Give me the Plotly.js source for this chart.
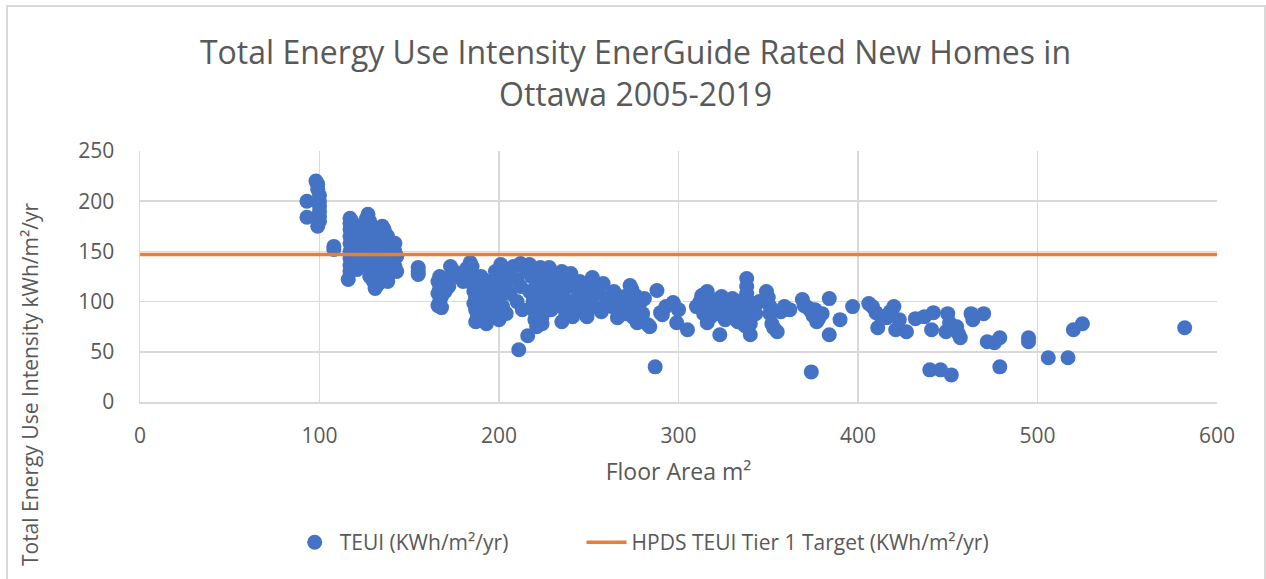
<!DOCTYPE html>
<html>
<head>
<meta charset="utf-8">
<script src="https://cdn.plot.ly/plotly-3.0.1.min.js"></script>
<style>
  html, body { margin: 0; padding: 0; background: #ffffff; overflow: hidden; }
  #chart { width: 1266px; height: 579px; }
  #frame { position: absolute; left: 6px; top: 5px; width: 1256px; height: 620px;
           border: 2px solid #d9d9d9; pointer-events: none; }
</style>
</head>
<body>
<div id="chart"></div>
<div id="frame"></div>
<script>
// Floor area (m²) of each rated home
const floorArea = [
  93,93,98,99,99,100,100,100,100,100,100,99,
  108,108,
  117,117,117,117,117,117,117,117,117,116,118,118,118,118,118,118,118,118,119,119,119,120,120,120,121,121,121,122,122,
  127,126,128,125,127,129,125,127,129,126,128,130,126,128,130,127,129,131,128,130,132,131,133,
  135,134,136,134,136,138,135,137,139,134,136,138,135,137,139,136,138,
  141,142,143,141,142,143,140,142,
  155,155,155,
  167,166,168,167,166,168,167,166,168,170,170,172,
  173,175,177,179,180,182,184,185,183,185,186,187,186,187,188,187,189,190,190,191,192,193,194,195,196,197,198,199,200,200,201,202,202,204,204,205,206,
  208,210,210,212,212,213,211,215,216,217,217,218,219,220,220,221,221,222,222,223,223,224,224,225,226,228,228,229,230,231,232,233,235,235,236,237,238,239,240,241,242,243,244,245,
  247,248,249,250,251,252,253,255,256,257,258,260,262,263,264,266,266,268,270,271,272,273,274,275,276,277,278,279,280,281,283,284,288,287,
  290,291,293,297,297,299,300,305,310,312,313,314,315,316,316,317,318,319,320,321,322,323,324,325,326,328,329,330,331,332,333,334,335,336,337,338,338,338,339,339,340,340,340,342,343,345,
  349,350,351,351,352,353,355,357,359,362,369,370,372,374,375,376,377,378,380,384,384,374,390,397,
  406,408,410,411,413,416,418,420,421,423,427,432,437,440,441,442,446,450,451,449,452,455,456,457,463,464,470,472,476,479,479,495,495,506,517,520,525,582
];
// Total energy use intensity (kWh/m²/yr) of each rated home
const teui = [
  200,184,220,217,212,206,200,195,190,185,180,175,
  155,152,
  183,178,172,165,158,150,143,136,130,122,180,175,168,162,155,148,140,133,176,160,145,170,152,138,165,148,132,158,143,
  187,182,180,175,172,170,165,162,160,155,150,148,145,140,138,135,130,128,125,120,116,113,118,
  175,170,172,165,160,165,155,150,155,148,145,140,138,133,128,125,120,
  155,150,145,140,135,130,148,158,
  134,130,127,
  125,120,118,113,108,105,100,96,94,110,122,115,
  135,130,125,128,120,133,139,135,125,118,110,104,98,92,86,80,115,125,100,90,83,78,108,120,95,88,130,113,104,82,137,125,95,118,88,130,108,
  135,122,100,138,115,92,52,130,66,137,110,125,100,90,82,75,118,128,108,134,95,85,78,120,102,134,115,92,125,105,98,118,80,130,110,90,122,100,128,85,115,95,105,120,
  92,112,85,100,118,124,95,108,115,90,118,100,105,95,110,84,100,92,105,88,98,116,112,84,106,79,95,102,88,103,77,75,111,35,
  89,87,95,99,98,79,92,72,95,100,106,88,108,110,79,95,85,102,92,100,88,67,105,95,82,98,90,103,86,95,80,100,92,85,76,123,115,108,100,92,85,78,67,95,88,100,
  110,104,95,88,78,74,70,90,95,92,102,96,94,90,86,92,80,83,88,103,67,30,82,95,
  98,95,89,74,85,84,90,95,72,82,70,83,85,32,72,89,32,88,79,70,27,75,68,64,88,82,88,60,59,64,35,64,60,44,44,72,78,74
];
// HPDS TEUI Tier 1 target (kWh/m²/yr), drawn across the floor-area axis range
const targetValue = 147;
const targetSpan = [0, 600];

const xTicks = [0, 100, 200, 300, 400, 500, 600];
const yTicks = [0, 50, 100, 150, 200, 250];

const FONT = '"Open Sans", "Noto Sans", sans-serif';
const GREY = '#595959';

const traces = [
  {
    type: 'scatter', mode: 'markers', name: 'TEUI (KWh/m²/yr)',
    x: floorArea, y: teui, legend: 'legend',
    marker: { color: '#4472C4', size: 15, line: { width: 0 } },
    hoverinfo: 'x+y'
  },
  {
    type: 'scatter', mode: 'lines', name: 'HPDS TEUI Tier 1 Target (KWh/m²/yr)',
    x: targetSpan, y: targetSpan.map(() => targetValue), legend: 'legend2',
    line: { color: '#ED7D31', width: 3.5 }
  }
];

const legendBase = {
  orientation: 'h', xref: 'paper', yref: 'paper', xanchor: 'left',
  y: -0.56, yanchor: 'middle',
  font: { family: FONT, size: 21, color: GREY },
  itemwidth: 40, bgcolor: 'rgba(0,0,0,0)'
};

const layout = {
  width: 1266, height: 579,
  paper_bgcolor: '#ffffff', plot_bgcolor: '#ffffff',
  margin: { l: 140, r: 49, t: 151, b: 177 },
  font: { family: FONT, color: GREY },
  title: {
    text: 'Total Energy Use Intensity EnerGuide Rated New Homes in<br>Ottawa 2005-2019',
    font: { family: FONT, size: 32, color: GREY },
    xref: 'container', x: 0.502, xanchor: 'center',
    yref: 'container', y: 0.889, yanchor: 'top'
  },
  xaxis: {
    range: [0, 600], tickvals: xTicks, ticktext: xTicks.map(String),
    showgrid: true, gridcolor: '#d9d9d9', gridwidth: 1.5,
    zeroline: false, showline: true, linecolor: '#d9d9d9', linewidth: 1.5,
    ticks: '', ticklabelstandoff: 14,
    tickfont: { family: FONT, size: 21, color: GREY },
    title: { text: 'Floor Area m²', font: { family: FONT, size: 23, color: GREY }, standoff: 16 }
  },
  yaxis: {
    range: [0, 250], tickvals: yTicks, ticktext: yTicks.map(String),
    showgrid: true, gridcolor: '#d9d9d9', gridwidth: 1.5,
    zeroline: false, showline: true, linecolor: '#d9d9d9', linewidth: 1.5,
    ticks: '', ticklabelstandoff: 20,
    tickfont: { family: FONT, size: 21, color: GREY }
  },
  annotations: [{
    text: 'Total Energy Use Intensity kWh/m²/yr',
    xref: 'paper', yref: 'paper', x: -0.102, y: 0.072,
    xanchor: 'center', yanchor: 'middle', textangle: -90, showarrow: false,
    font: { family: FONT, size: 21, color: GREY }
  }],
  showlegend: true,
  legend: Object.assign({}, legendBase, { x: 0.139 }),
  legend2: Object.assign({}, legendBase, { x: 0.410 })
};

Plotly.newPlot('chart', traces, layout, { displayModeBar: false, staticPlot: true });
</script>
</body>
</html>
